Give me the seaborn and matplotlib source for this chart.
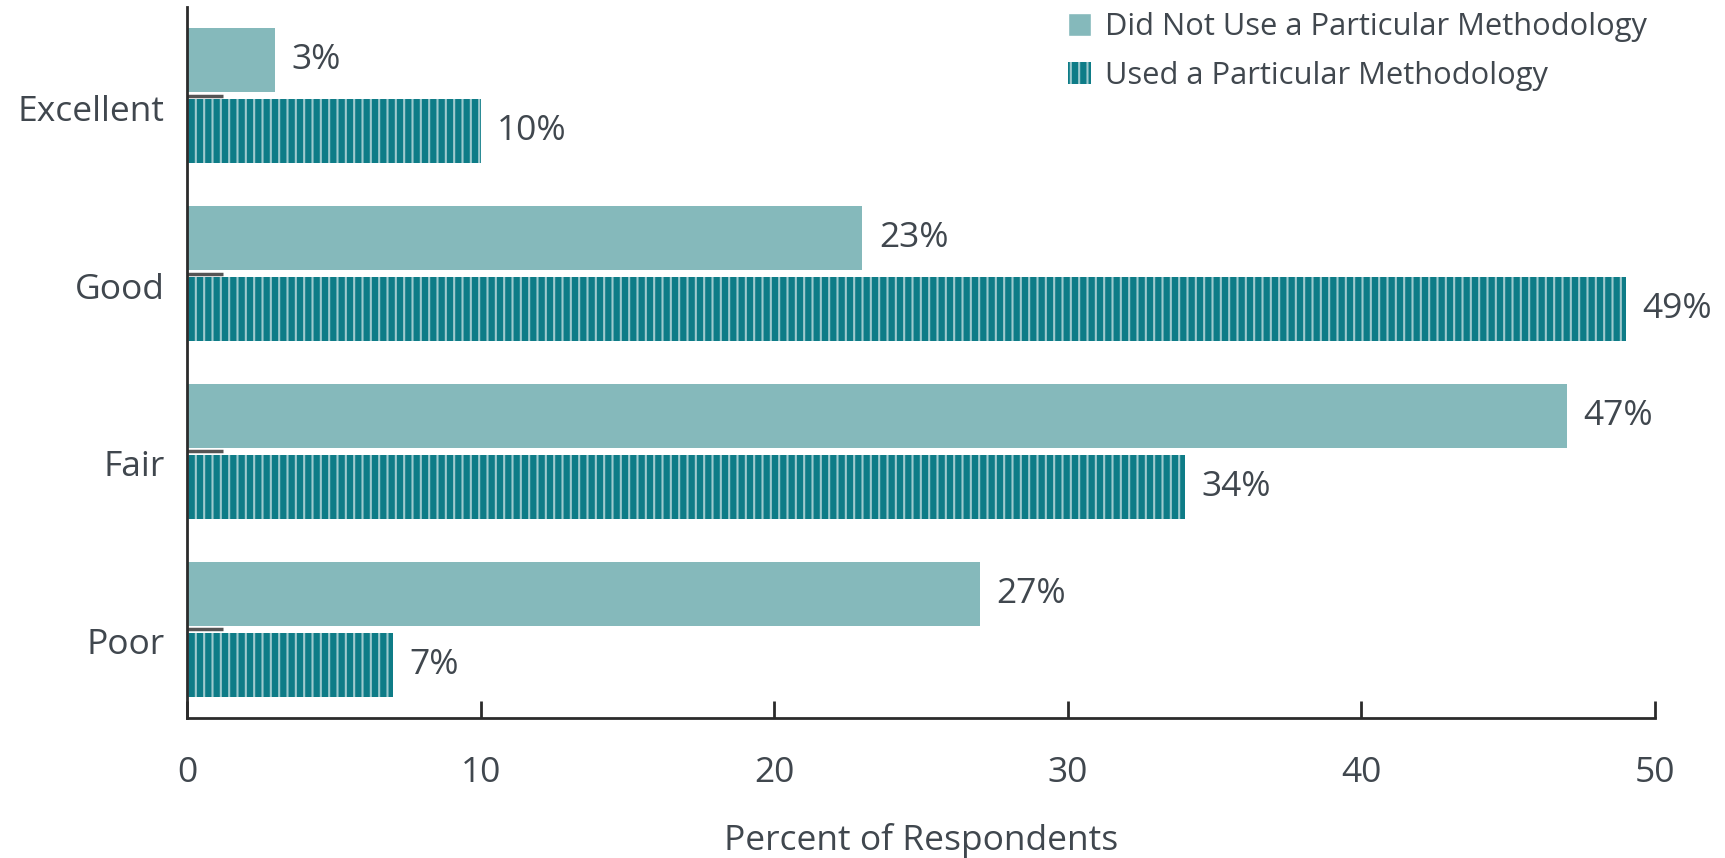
import matplotlib
matplotlib.use("Agg")
import matplotlib.pyplot as plt
import matplotlib.transforms as mtransforms
from matplotlib.patches import Patch
import seaborn as sns
import pandas as pd

categories = ["Excellent", "Good", "Fair", "Poor"]
series_names = ["Did Not Use a Particular Methodology", "Used a Particular Methodology"]
did_not_use = [3, 23, 47, 27]
used = [10, 49, 34, 7]
x_ticks = [0, 10, 20, 30, 40, 50]
x_label = "Percent of Respondents"

LIGHT = "#85b9bb"
DARK = "#0e7c87"
TEXT = "#40474e"
STRIPE = (1, 1, 1, 0.6)

sns.set_theme(style="white")
plt.rcParams["font.family"] = ["Open Sans", "DejaVu Sans"]
plt.rcParams["hatch.color"] = STRIPE
plt.rcParams["hatch.linewidth"] = 1.5

df = pd.DataFrame({
    "Rating": categories * 2,
    "Series": [series_names[0]] * len(categories) + [series_names[1]] * len(categories),
    "Percent": did_not_use + used,
})

fig = plt.figure(figsize=(17.25, 8.58), dpi=100)
ax = fig.add_axes([187 / 1725, 1 - 718 / 858, (1655 - 187) / 1725, (718 - 7) / 858])

sns.barplot(data=df, y="Rating", x="Percent", hue="Series", order=categories,
            hue_order=series_names, palette=[LIGHT, DARK], saturation=1,
            orient="h", width=0.8, gap=0.1, ax=ax, legend=False, linewidth=0)

n = len(categories)
for i, bar in enumerate(ax.patches[:2 * n]):
    if i >= n:
        bar.set_hatch("||")
        bar.set_edgecolor(STRIPE)
        bar.set_linewidth(0)

FS = 25.5
for container, vals in zip(ax.containers, [did_not_use, used]):
    ax.bar_label(container, labels=[f"{v}%" for v in vals], padding=12,
                 fontsize=FS, color=TEXT)

ax.set_xlim(0, 50)
ax.set_ylim(3.5, -0.5)
ax.set_xticks(x_ticks)
ax.set_xlabel(x_label, fontsize=FS, color=TEXT, labelpad=24)
ax.set_ylabel("")

for s in ["top", "right"]:
    ax.spines[s].set_visible(False)
for s in ["left", "bottom"]:
    ax.spines[s].set_color("#2b2b2b")
    ax.spines[s].set_linewidth(2)

ax.tick_params(axis="x", direction="in", length=12, width=2, color="#2b2b2b",
               labelsize=FS, labelcolor=TEXT, pad=27, bottom=True)
ax.tick_params(axis="y", direction="in", length=26, width=2.5, color="#555555",
               labelsize=FS, labelcolor=TEXT, pad=16, left=True)

offset = mtransforms.ScaledTranslation(0, -12 / 100, fig.dpi_scale_trans)
for lab in ax.get_yticklabels():
    lab.set_transform(lab.get_transform() + offset)

handles = [Patch(facecolor=LIGHT, label=series_names[0]),
           Patch(facecolor=DARK, hatch="||", edgecolor=STRIPE, linewidth=0,
                 label=series_names[1])]
leg = ax.legend(handles=handles, loc="upper right", bbox_to_anchor=(1.003, 1.01),
                frameon=False, fontsize=22.2, handlelength=0.75, handleheight=0.75,
                handletextpad=0.45, labelspacing=0.6, borderaxespad=0.0)
for t in leg.get_texts():
    t.set_color(TEXT)

fig.savefig("out.png", dpi=100)
